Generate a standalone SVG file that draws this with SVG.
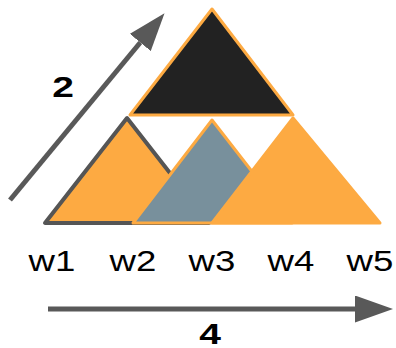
<svg xmlns="http://www.w3.org/2000/svg" width="396" height="348" viewBox="0 0 396 348">
  <style>
    .orange { fill: #FDAA42; stroke: #FDAA42; stroke-width: 3; stroke-linejoin: round; }
    .lbl { font-family: "Liberation Sans", Arial, sans-serif; font-size: 30px; fill: #000000; text-anchor: middle; }
    .num { font-family: "Liberation Sans", Arial, sans-serif; font-size: 30px; font-weight: bold; fill: #000000; text-anchor: middle; }
    .arrow { stroke: #595959; stroke-width: 5; fill: none; marker-end: url(#head); }
  </style>
  <defs>
    <marker id="head" viewBox="0 0 38 27" markerWidth="38" markerHeight="27" refX="0" refY="13.5" orient="auto" markerUnits="userSpaceOnUse">
      <path d="M0,0 L38,13.5 L0,27 z" fill="#595959"/>
    </marker>
  </defs>

  <g id="tri-left">
    <polygon points="127,118 45,223 209,223" fill="#FDAA42" stroke="#555555" stroke-width="4" stroke-linejoin="round"/>
  </g>
  <g id="tri-middle">
    <polygon points="212,120 133,223 292,223" fill="#78909C" stroke="#FDAA42" stroke-width="3" stroke-linejoin="round"/>
  </g>
  <g id="tri-right">
    <polygon class="orange" points="293,118 212,223 380,223"/>
  </g>
  <g id="tri-top">
    <polygon points="212,9 130,115 293,115" fill="#222222" stroke="#FDAA42" stroke-width="3" stroke-linejoin="round"/>
  </g>

  <g id="connectors">
    <line class="arrow" x1="10" y1="200" x2="140.3" y2="42.5"/>
    <line class="arrow" x1="48" y1="309" x2="355" y2="309"/>
  </g>

  <g id="labels">
    <text class="num" transform="translate(63,97) scale(1.3,1)">2</text>
    <text class="num" transform="translate(210,344) scale(1.3,1)">4</text>
    <text class="lbl" transform="translate(52,271) scale(1.22,1)">w1</text>
    <text class="lbl" transform="translate(133,271) scale(1.22,1)">w2</text>
    <text class="lbl" transform="translate(212,271) scale(1.22,1)">w3</text>
    <text class="lbl" transform="translate(291,271) scale(1.22,1)">w4</text>
    <text class="lbl" transform="translate(370,271) scale(1.22,1)">w5</text>
  </g>
</svg>
